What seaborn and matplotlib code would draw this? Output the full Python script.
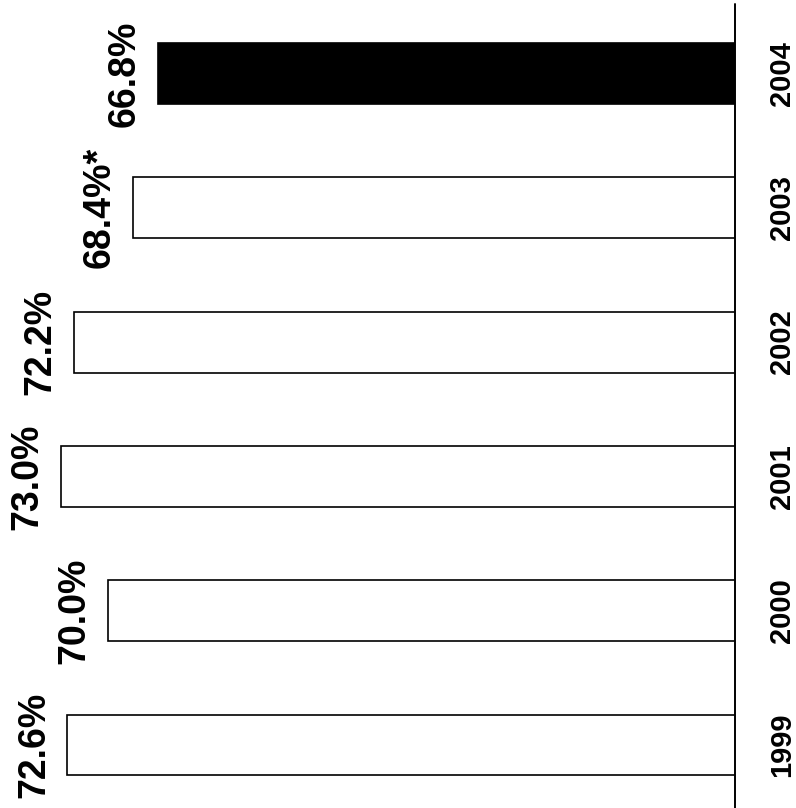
import matplotlib
matplotlib.use("Agg")
import matplotlib.pyplot as plt
import seaborn as sns
import pandas as pd

# Share by year, shown as horizontal bars growing leftward from a right-hand baseline
years = ["2004", "2003", "2002", "2001", "2000", "1999"]
values = [66.8, 68.4, 72.2, 73.0, 70.0, 72.6]
labels = ["66.8%", "68.4%*", "72.2%", "73.0%", "70.0%", "72.6%"]
colors = ["black", "white", "white", "white", "white", "white"]

df = pd.DataFrame({"year": years, "value": values})

sns.set_theme(style="white")
plt.rcParams["font.family"] = ["Liberation Sans", "DejaVu Sans"]

W, H = 796, 808
fig = plt.figure(figsize=(W / 100, H / 100), dpi=100)
base_px = 735
ax = fig.add_axes([0, 0, base_px / W, 1])

sns.barplot(data=df, y="year", x="value", order=years, orient="h",
            width=0.454, palette=colors, hue="year", hue_order=years,
            legend=False, edgecolor="black", linewidth=1.2, ax=ax)

x_base = 29.67
ax.set_xlim(76.93, x_base)
ax.set_ylim(5.469, -0.547)

for s in ax.spines.values():
    s.set_visible(False)
ax.set_xticks([])
ax.set_yticks([])
ax.set_xlabel("")
ax.set_ylabel("")

# baseline on the right
ax.axvline(x_base, ymin=0, ymax=1 - 4 / H, color="black", linewidth=1.4,
           clip_on=False, zorder=5)

# value labels beyond the end of each bar
for i, (v, lab) in enumerate(zip(values, labels)):
    ax.annotate(lab, xy=(v, i), xytext=(-11, 0), textcoords="offset points",
                ha="right", va="center", rotation=90, fontsize=27,
                fontweight="bold", color="black", annotation_clip=False)

# year labels to the right of the baseline
for i, yr in enumerate(years):
    ax.annotate(yr, xy=(x_base, i), xytext=(34, 0), textcoords="offset points",
                ha="center", va="center", rotation=90, fontsize=21,
                fontweight="bold", color="black", annotation_clip=False)

fig.savefig("out.png", dpi=100, facecolor="white")
